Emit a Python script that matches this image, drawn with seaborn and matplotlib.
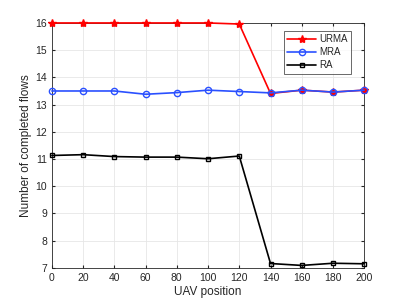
import numpy as np
import pandas as pd
import matplotlib
matplotlib.use("Agg")
import matplotlib.pyplot as plt
import seaborn as sns

# 横轴: UAV位置
uav_pos = [0, 20, 40, 60, 80, 100, 120, 140, 160, 180, 200]
# 三种算法的完成流数
urma = [16.0, 16.0, 16.0, 16.0, 16.0, 16.0, 15.96, 13.41, 13.53, 13.46, 13.53]
mra = [13.5, 13.5, 13.5, 13.38, 13.44, 13.53, 13.48, 13.43, 13.53, 13.46, 13.53]
ra = [11.13, 11.16, 11.09, 11.07, 11.07, 11.01, 11.11, 7.16, 7.09, 7.17, 7.15]

sns.set_style("ticks")
plt.rcParams['font.family'] = ['Liberation Sans', 'DejaVu Sans']

df = pd.concat([
    pd.DataFrame({'pos': uav_pos, 'flows': urma, 'alg': 'URMA'}),
    pd.DataFrame({'pos': uav_pos, 'flows': mra, 'alg': 'MRA'}),
    pd.DataFrame({'pos': uav_pos, 'flows': ra, 'alg': 'RA'}),
])

fig = plt.figure(figsize=(4.02, 3.02), dpi=100)
ax = fig.add_axes([0.129, 0.113, 0.777, 0.811])

styles = {
    'URMA': dict(color='#ff0000', marker='*', mfc='#ff0000', ms=6),
    'MRA': dict(color='#2a50ff', marker='o', mfc='none', ms=4.5),
    'RA': dict(color='#000000', marker='s', mfc='none', ms=3.5),
}
for name, st in styles.items():
    sub = df[df['alg'] == name]
    sns.lineplot(data=sub, x='pos', y='flows', ax=ax, label=name,
                 color=st['color'], marker=st['marker'], markersize=st['ms'],
                 markerfacecolor=st['mfc'], markeredgecolor=st['color'],
                 markeredgewidth=1.0, linewidth=1.2, clip_on=False, zorder=5)

ax.set_xlim(0, 200)
ax.set_ylim(7, 16)
ax.set_xticks(uav_pos)
ax.set_yticks(range(7, 17))
ax.grid(True, color='#e6e6e6', linewidth=0.6)
ax.tick_params(direction='in', labelsize=7.5, colors='#262626', length=2.5,
               top=True, right=True)
for sp in ax.spines.values():
    sp.set_color('#262626')
    sp.set_linewidth(0.6)
    sp.set_visible(True)
ax.set_xlabel('UAV position', fontsize=8.5, color='#262626', labelpad=2)
ax.set_ylabel('Number of completed flows', fontsize=8.5, color='#262626', labelpad=2)

leg = ax.legend(loc='upper right', bbox_to_anchor=(0.958, 0.967), fontsize=7,
                frameon=True, fancybox=False, edgecolor='#262626',
                handlelength=3.0, borderpad=0.35, labelspacing=0.3,
                handletextpad=0.3, borderaxespad=0)
leg.get_frame().set_linewidth(0.6)
leg.set_zorder(10)

fig.savefig('out.png', dpi=100)
